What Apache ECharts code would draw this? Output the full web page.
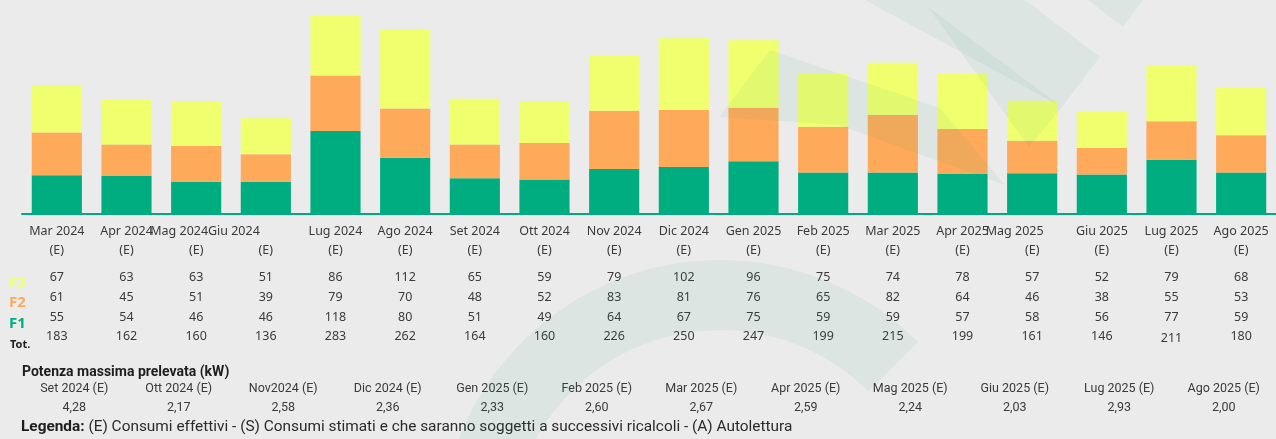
<!DOCTYPE html>
<html>
<head>
<meta charset="utf-8">
<script src="https://cdn.jsdelivr.net/npm/echarts@6/dist/echarts.min.js"></script>
<style>
  html, body { margin: 0; padding: 0; background: #ebebeb; }
  #chart { width: 1276px; height: 439px; }
</style>
</head>
<body>
<div id="chart"></div>
<script>
// consumi mensili per fascia (kWh)
const months = ['Mar 2024', 'Apr 2024', 'Mag 2024', 'Giu 2024', 'Lug 2024', 'Ago 2024', 'Set 2024', 'Ott 2024', 'Nov 2024',
  'Dic 2024', 'Gen 2025', 'Feb 2025', 'Mar 2025', 'Apr 2025', 'Mag 2025', 'Giu 2025', 'Lug 2025', 'Ago 2025']
const readType = ['E', 'E', 'E', 'E', 'E', 'E', 'E', 'E', 'E', 'E', 'E', 'E', 'E', 'E', 'E', 'E', 'E', 'E']
const f3 = [67, 63, 63, 51, 86, 112, 65, 59, 79, 102, 96, 75, 74, 78, 57, 52, 79, 68]
const f2 = [61, 45, 51, 39, 79, 70, 48, 52, 83, 81, 76, 65, 82, 64, 46, 38, 55, 53]
const f1 = [55, 54, 46, 46, 118, 80, 51, 49, 64, 67, 75, 59, 59, 57, 58, 56, 77, 59]
const totals = [183, 162, 160, 136, 283, 262, 164, 160, 226, 250, 247, 199, 215, 199, 161, 146, 211, 180]

// potenza massima prelevata (kW)
const potMonths = ['Set 2024 (E)', 'Ott 2024 (E)', 'Nov2024 (E)', 'Dic 2024 (E)', 'Gen 2025 (E)', 'Feb 2025 (E)',
  'Mar 2025 (E)', 'Apr 2025 (E)', 'Mag 2025 (E)', 'Giu 2025 (E)', 'Lug 2025 (E)', 'Ago 2025 (E)']
const potValues = [4.28, 2.17, 2.58, 2.36, 2.33, 2.60, 2.67, 2.59, 2.24, 2.03, 2.93, 2.00]

const colors = { f1: '#00ad80', f2: '#ffa95a', f3: '#f0ff6e' }
const textFont = { fontFamily: 'Noto Sans', fontSize: 12.5, color: '#3a3a3a' }
const condFont = { fontFamily: 'Roboto', fontSize: 12.5, color: '#3a3a3a' }
// alcune etichette dei mesi nell'originale sono spostate a sinistra (px di padding a destra)
const monthPad = { 2: 34, 3: 64, 14: 35 }

const chart = echarts.init(document.getElementById('chart'))

// riga di valori sotto il grafico (drop = indice -> px verso il basso)
function rowAxis(values, offset, drop) {
  const rich = { v: { ...textFont, lineHeight: 16 } }
  Object.keys(drop || {}).forEach(k => {
    rich['d' + k] = { ...textFont, lineHeight: 16, padding: [drop[k], 0, 0, 0] }
  })
  return {
    type: 'category',
    gridIndex: 0,
    position: 'bottom',
    offset: offset,
    data: months,
    axisLine: { show: false },
    axisTick: { show: false },
    axisLabel: {
      interval: 0,
      margin: 0,
      lineHeight: 16,
      ...textFont,
      rich: rich,
      formatter: (v, i) => '{' + (drop && drop[i] ? 'd' + i : 'v') + '|' + values[i] + '}'
    }
  }
}

const monthRich = { m: { ...textFont, lineHeight: 19 }, e: { ...textFont, lineHeight: 19 } }
Object.keys(monthPad).forEach(k => {
  monthRich['p' + k] = { ...textFont, lineHeight: 19, padding: [0, monthPad[k], 0, 0] }
})

const wmColor = 'rgba(40, 160, 120, 0.07)'

chart.setOption({
  backgroundColor: '#ebebeb',
  animation: false,
  title: {
    text: 'Potenza massima prelevata (kW)',
    left: 17,
    top: 360,
    textStyle: { fontFamily: 'Roboto', fontSize: 14, fontWeight: 'bold', color: '#1e1e1e' }
  },
  grid: [
    { left: 22, width: 1255, top: 15, height: 199 },
    { left: 22, width: 1255, top: 370, height: 1 }
  ],
  xAxis: [
    {
      type: 'category',
      gridIndex: 0,
      data: months,
      axisLine: { lineStyle: { color: '#00a884', width: 2 } },
      axisTick: { show: false },
      axisLabel: {
        interval: 0,
        margin: 8,
        lineHeight: 19,
        ...textFont,
        rich: monthRich,
        formatter: (v, i) => {
          const key = monthPad[i] ? 'p' + i : 'm'
          return '{' + key + '|' + v + '}\n{e|(' + readType[i] + ')}'
        }
      }
    },
    rowAxis(f3, 55),
    rowAxis(f2, 75),
    rowAxis(f1, 95),
    rowAxis(totals, 114, { 16: 5 }),
    {
      type: 'category',
      gridIndex: 1,
      data: potMonths,
      axisLine: { show: false },
      axisTick: { show: false },
      axisLabel: {
        interval: 0,
        margin: 8,
        lineHeight: 19,
        ...condFont,
        formatter: (v, i) => v + '\n' + potValues[i].toFixed(2).replace('.', ',')
      }
    }
  ],
  yAxis: [
    { type: 'value', gridIndex: 0, min: 0, max: Math.max(...totals), show: false },
    { type: 'value', gridIndex: 1, show: false }
  ],
  series: [
    { name: 'F1', type: 'bar', stack: 'tot', barWidth: '72%', itemStyle: { color: colors.f1 }, data: f1 },
    { name: 'F2', type: 'bar', stack: 'tot', barWidth: '72%', itemStyle: { color: colors.f2 }, data: f2 },
    { name: 'F3', type: 'bar', stack: 'tot', barWidth: '72%', itemStyle: { color: colors.f3 }, data: f3 }
  ],
  graphic: [
    // etichette delle righe
    { type: 'text', left: 9, top: 275, style: { text: 'F3', fill: colors.f3, font: 'bold 15px "Noto Sans"' } },
    { type: 'text', left: 9, top: 295, style: { text: 'F2', fill: colors.f2, font: 'bold 15px "Noto Sans"' } },
    { type: 'text', left: 9, top: 316, style: { text: 'F1', fill: colors.f1, font: 'bold 15px "Noto Sans"' } },
    { type: 'text', left: 10, top: 339, style: { text: 'Tot.', fill: '#1e1e1e', font: 'bold 11px "Noto Sans"' } },
    // legenda
    {
      type: 'text', left: 21, top: 420,
      style: {
        text: '{b|Legenda:} (E) Consumi effettivi - (S) Consumi stimati e che saranno soggetti a successivi ricalcoli - (A) Autolettura',
        font: '15.4px Roboto',
        fill: '#2a2a2a',
        rich: { b: { fontFamily: 'Roboto', fontSize: 15.4, fontWeight: 'bold', fill: '#1e1e1e' } }
      }
    },
    // filigrana
    { type: 'polygon', z: 10, silent: true, shape: { points: [[865, 0], [1025, 0], [1100, 57], [1062, 107]] }, style: { fill: wmColor } },
    { type: 'polygon', z: 10, silent: true, shape: { points: [[928, 7], [1062, 107], [1029, 147]] }, style: { fill: wmColor } },
    { type: 'polygon', z: 10, silent: true, shape: { points: [[1088, 0], [1143, 0], [1123, 27]] }, style: { fill: wmColor } },
    { type: 'polygon', z: 10, silent: true, shape: { points: [[770, 50], [940, 108], [1005, 185], [839, 125], [719, 117]] }, style: { fill: wmColor } },
    { type: 'arc', z: 10, silent: true, shape: { cx: 720, cy: 540, r: 245, startAngle: Math.PI * 1.0, endAngle: Math.PI * 1.75 }, style: { stroke: wmColor, lineWidth: 70, fill: null } }
  ]
})
</script>
</body>
</html>
